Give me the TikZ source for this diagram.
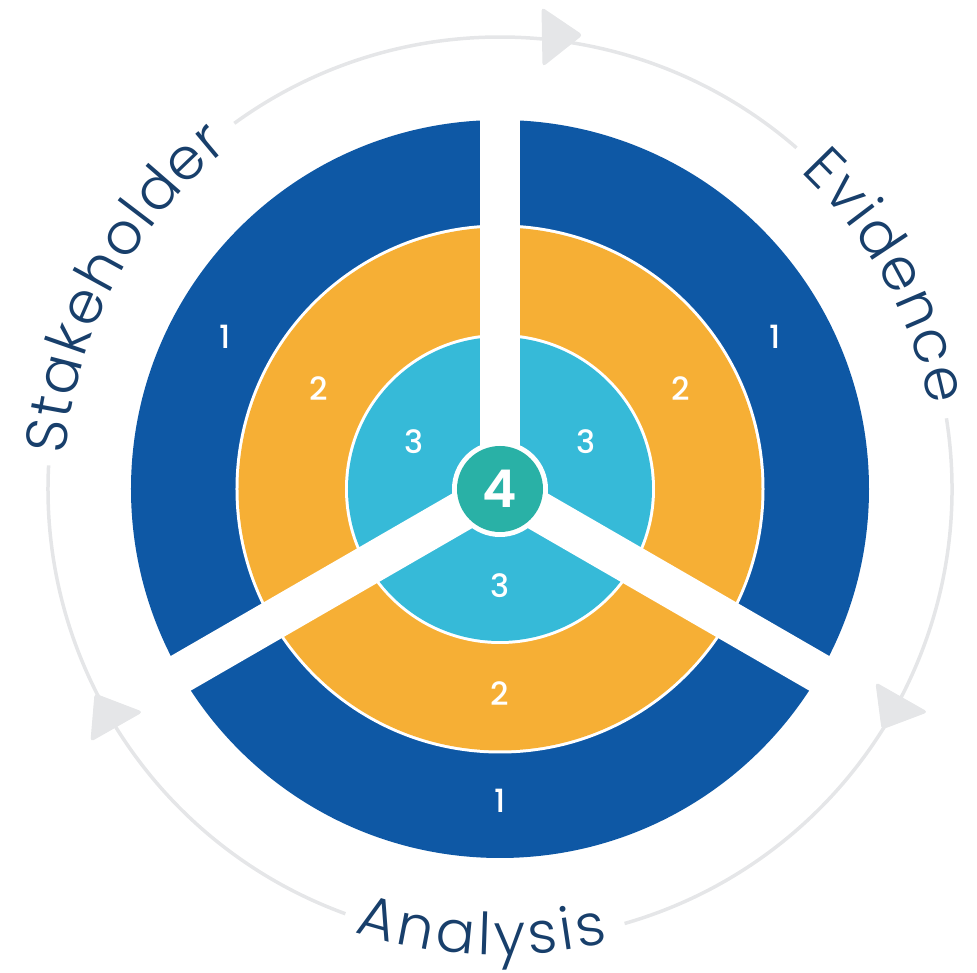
\documentclass[tikz,border=0pt]{standalone}
\usepackage{fontspec}
\setmainfont{Poppins}
\newfontfamily\lightfont{Poppins Light}
\newfontfamily\medfont{Poppins Medium}
\newfontfamily\semifont{Poppins SemiBold}
\usetikzlibrary{decorations.text}
\definecolor{ringblue}{HTML}{0E58A5}
\definecolor{ringorange}{HTML}{F6AF35}
\definecolor{ringcyan}{HTML}{36BAD8}
\definecolor{ringgreen}{HTML}{29B1A6}
\definecolor{navy}{HTML}{183F6B}
\definecolor{arcgray}{HTML}{E5E6E8}
\begin{document}
\begin{tikzpicture}[x=1pt,y=1pt,
  grayarc/.style={draw=arcgray, line width=3.5pt},
  grayhead/.style={fill=arcgray, draw=arcgray, line width=1pt, rounded corners=3pt},
  gapbar/.style={draw=white, line width=40pt},
  num/.style={text=white, font=\medfont\fontsize{32}{32}\selectfont, inner sep=0pt},
  curvetext/.style={decorate, decoration={text along path, text align=fit to path,
     text={|\lightfont\fontsize{58}{60}\selectfont\color{navy}|#1}}}
]
\useasboundingbox (-500,-484) rectangle (477,489);

% grey cycle arcs
\draw[grayarc] (49:452) arc[start angle=49, end angle=126, radius=452];
\draw[grayarc] (177:452) arc[start angle=177, end angle=250, radius=452];
\draw[grayarc] (286:452) arc[start angle=286, end angle=369, radius=452];

% arrow heads
\filldraw[grayhead] (42,481) -- (82,454) -- (43,423) -- cycle;
\filldraw[grayhead] (376,-194) -- (427,-223) -- (382,-240) -- cycle;
\filldraw[grayhead] (-405,-205) -- (-358,-223) -- (-409,-252) -- cycle;

% rings
\fill[ringblue] (0,0) circle (369);
\fill[white] (0,0) circle (264.5);
\fill[ringorange] (0,0) circle (261.5);
\fill[white] (0,0) circle (155);
\fill[ringcyan] (0,0) circle (152);

% gaps
\foreach \a in {90,210,330} \draw[gapbar] (0,0) -- (\a:385);

% centre
\fill[white] (0,0) circle (48);
\node[circle, fill=ringgreen, minimum size=86pt, inner sep=0pt, text=white,
  font=\semifont\fontsize{52}{52}\selectfont] (c4) at (0,0) {4};

% numbers
\node[num] (b1l) at (151:314) {1};
\node[num] (b1r) at (29:314) {1};
\node[num] (b1b) at (270:312) {1};
\node[num] (o2l) at (151:207) {2};
\node[num] (o2r) at (29:207) {2};
\node[num] (o2b) at (270:205) {2};
\node[num] (c3l) at (151:98) {3};
\node[num] (c3r) at (29:98) {3};
\node[num] (c3b) at (270:97) {3};

% curved labels
\path[curvetext=Stakeholder] (175.5:436) arc[start angle=175.5, end angle=128.5, radius=436];
\path[curvetext=Evidence] (46.5:437) arc[start angle=46.5, end angle=11, radius=437];
\path[curvetext=Analysis] (251.8:466) arc[start angle=251.8, end angle=283.5, radius=466];
\end{tikzpicture}
\end{document}
